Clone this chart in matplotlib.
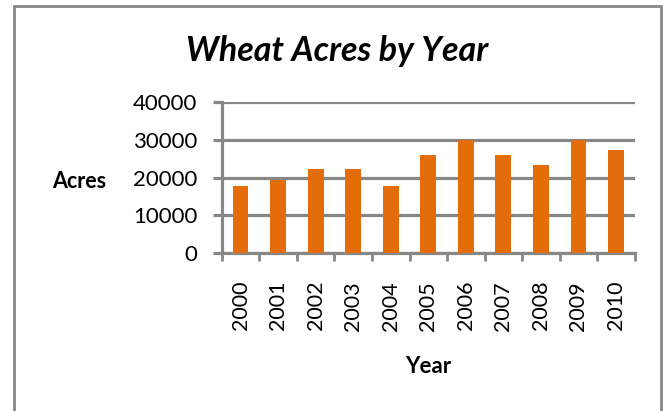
import matplotlib
matplotlib.use('Agg')
import matplotlib.pyplot as plt
from matplotlib.patches import Rectangle

# 数据
years = ['2000', '2001', '2002', '2003', '2004', '2005',
         '2006', '2007', '2008', '2009', '2010']
acres = [17700, 19300, 22300, 22300, 17700, 25900,
         30000, 25900, 23200, 30000, 27400]

# 样式
plt.rcParams['font.family'] = ['Lato', 'DejaVu Sans']
bar_color = '#E46C0A'
grid_color = '#878787'

fig = plt.figure(figsize=(6.64, 4.11), dpi=100)
ax = fig.add_axes([0.334, 0.384, 0.622, 0.368])

x = list(range(len(years)))
ax.bar(x, acres, width=0.42, color=bar_color, zorder=3)

ax.set_xlim(-0.5, len(years) - 0.5)
ax.set_ylim(0, 40000)
ax.set_yticks([0, 10000, 20000, 30000, 40000])
ax.set_yticklabels(['0', '10000', '20000', '30000', '40000'], fontsize=16)
ax.yaxis.grid(True, color=grid_color, linewidth=2.3, zorder=1)
ax.tick_params(axis='y', length=6.5, width=2.3, color=grid_color, pad=11)

ax.set_xticks(x)
ax.set_xticklabels(years, rotation=90, fontsize=15.5)
ax.set_xticks([i - 0.5 for i in range(len(years) + 1)], minor=True)
ax.tick_params(axis='x', which='major', length=0, pad=20)
ax.tick_params(axis='x', which='minor', length=6, width=2, color=grid_color)

for side in ['top', 'right']:
    ax.spines[side].set_visible(False)
for side in ['left', 'bottom']:
    ax.spines[side].set_color(grid_color)
    ax.spines[side].set_linewidth(2.3)

ax.set_xlabel('Year', fontsize=16, fontweight='bold', labelpad=18)
ax.set_ylabel('Acres', fontsize=15.5, fontweight='bold', rotation=0,
              ha='center', va='center')
ax.yaxis.set_label_coords(-0.346, 0.477)

fig.text(0.508, 0.876, 'Wheat Acres by Year', ha='center', va='center',
         fontsize=24.5, fontweight='bold', style='italic')

# 外框
fig.patches.append(Rectangle((0.021, -0.05), 0.975, 1.035, transform=fig.transFigure,
                             fill=False, edgecolor=grid_color, linewidth=2))

plt.savefig('out.png', dpi=100)
